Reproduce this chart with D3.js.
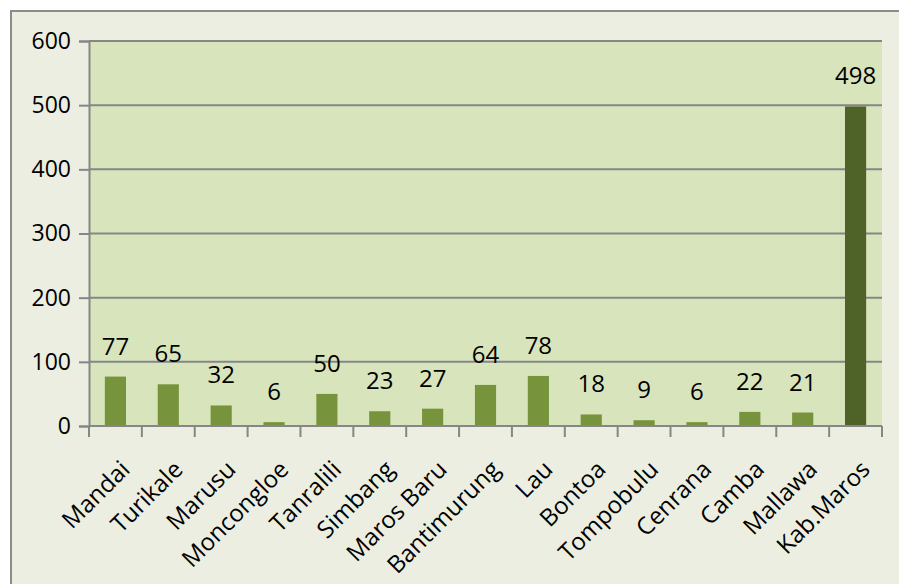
<!DOCTYPE html>
<html><head><meta charset="utf-8">
<script src="https://cdn.jsdelivr.net/npm/d3@7"></script>
<style>body{margin:0;background:#fff}svg{display:block}text{font-family:"Open Sans",sans-serif;fill:#000}</style>
</head><body>
<svg id="c" width="899" height="584"></svg>
<script>
const categories = ["Mandai","Turikale","Marusu","Moncongloe","Tanralili","Simbang","Maros Baru","Bantimurung","Lau","Bontoa","Tompobulu","Cenrana","Camba","Mallawa","Kab.Maros"];
const values = [77,65,32,6,50,23,27,64,78,18,9,6,22,21,498];
const yTicks = [0,100,200,300,400,500,600];

const svg = d3.select("#c");
const L=89,R=882,T=41,B=426;
svg.append("rect").attr("x",11).attr("y",11).attr("width",900).attr("height",600)
  .attr("fill","#ebeee0").attr("stroke","#8c8c8c").attr("stroke-width",2);
svg.append("rect").attr("x",L).attr("y",T).attr("width",R-L).attr("height",B-T).attr("fill","#d8e4bc");

const x = d3.scaleBand().domain(categories).range([L,R]).paddingInner(0.6).paddingOuter(0.3);
const xb = d3.scaleBand().domain(categories).range([L,R]);
const y = d3.scaleLinear().domain([0,600]).range([B,T]);

// gridlines
svg.append("g").selectAll("line").data(yTicks.filter(d=>d>0)).join("line")
  .attr("x1",L).attr("x2",R).attr("y1",d=>y(d)).attr("y2",d=>y(d))
  .attr("stroke","#868686").attr("stroke-width",2);

// y axis
const ya = svg.append("g").attr("transform",`translate(${L},0)`)
  .call(d3.axisLeft(y).tickValues(yTicks).tickSize(10).tickPadding(8));
ya.select(".domain").attr("stroke","#868686").attr("stroke-width",2);
ya.selectAll(".tick line").attr("stroke","#868686").attr("stroke-width",2);
ya.selectAll(".tick text").attr("font-size",23).attr("font-family","Open Sans").attr("fill","#000");

// bars
svg.append("g").selectAll("rect").data(values).join("rect")
  .attr("x",(d,i)=>x(categories[i])).attr("width",x.bandwidth())
  .attr("y",d=>y(d)).attr("height",d=>B-y(d))
  .attr("fill",(d,i)=>i===values.length-1?"#4f6228":"#77933c");

// x axis
const xg = svg.append("g");
xg.append("line").attr("x1",L).attr("x2",R).attr("y1",B).attr("y2",B).attr("stroke","#868686").attr("stroke-width",2);
const bounds = categories.map(c=>xb(c)).concat([R]);
xg.selectAll("line.tk").data(bounds).join("line").attr("class","tk")
  .attr("x1",d=>d).attr("x2",d=>d).attr("y1",B).attr("y2",B+11)
  .attr("stroke","#868686").attr("stroke-width",2);
xg.selectAll("text").data(categories).join("text")
  .attr("transform",d=>`translate(${xb(d)+xb.bandwidth()/2+4},${B+33}) rotate(-45)`)
  .attr("text-anchor","end").attr("dy","0.7em").attr("font-size",24).text(d=>d);

// labels
svg.append("g").selectAll("text").data(values).join("text")
  .attr("x",(d,i)=>x(categories[i])+x.bandwidth()/2).attr("y",d=>y(d)-22)
  .attr("text-anchor","middle").attr("font-size",24).text(d=>d);
</script>
</body></html>
